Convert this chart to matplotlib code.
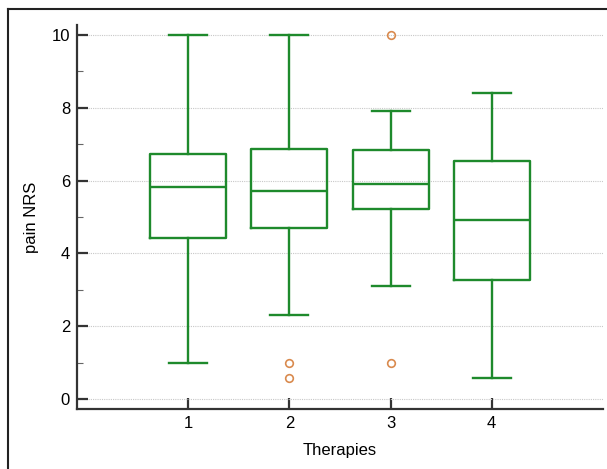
import matplotlib
matplotlib.use("Agg")
import matplotlib.pyplot as plt
from matplotlib.lines import Line2D

plt.rcParams['font.family'] = ['Liberation Sans', 'DejaVu Sans']

categories = ["1", "2", "3", "4"]
whislo = [1.0, 2.3, 3.11, 0.57]
q1 = [4.42, 4.71, 5.21, 3.27]
med = [5.81, 5.72, 5.90, 4.93]
q3 = [6.72, 6.87, 6.85, 6.55]
whishi = [10.0, 10.0, 7.91, 8.39]
fliers = [[], [1.0, 0.58], [10.0, 1.0], []]

green = "#1e8a2c"
orange = "#d98a4e"

stats = []
for i in range(len(categories)):
    stats.append(dict(label=categories[i], whislo=whislo[i], q1=q1[i], med=med[i],
                      q3=q3[i], whishi=whishi[i], fliers=fliers[i]))

fig = plt.figure(figsize=(6.07, 4.69), dpi=100)
ax = fig.add_axes([77/607, 1-409/469, (603-77)/607, (409-25)/469])

lw = 1.7
ax.bxp(stats, positions=[1, 2, 3, 4], widths=0.75, showfliers=True,
       boxprops=dict(color=green, linewidth=lw),
       whiskerprops=dict(color=green, linewidth=lw),
       capprops=dict(color=green, linewidth=lw),
       medianprops=dict(color=green, linewidth=lw),
       flierprops=dict(marker='o', markerfacecolor='none', markeredgecolor=orange,
                       markersize=5.5, markeredgewidth=1.2),
       capwidths=0.375)

ax.set_xlim(-0.1, 5.1)
ax.set_ylim(-0.27, 10.27)
ax.set_yticks([0, 2, 4, 6, 8, 10])
ax.set_yticks([1, 3, 5, 7, 9], minor=True)
ax.set_xticks([1, 2, 3, 4])
ax.set_xticklabels(categories)
ax.grid(axis='y', which='major', linestyle=(0, (1, 1)), color='#c8c8c8', linewidth=0.8)
ax.set_axisbelow(True)

for s in ['top', 'right']:
    ax.spines[s].set_visible(False)
for s in ['left', 'bottom']:
    ax.spines[s].set_color('#333333')
    ax.spines[s].set_linewidth(1.6)

ax.tick_params(axis='both', which='major', direction='in', length=8, width=1.6,
               color='#333333', labelsize=12, pad=5)
ax.tick_params(axis='y', which='minor', direction='in', length=4, width=0.8, color='#666666')
ax.tick_params(axis='x', which='minor', bottom=False)

ax.set_xlabel("Therapies", fontsize=12, labelpad=9)
ax.set_ylabel("pain NRS", fontsize=12, labelpad=9)

# figure frame (top and left edges)
fig.add_artist(Line2D([8/607, 1.0], [1-9/469, 1-9/469], transform=fig.transFigure,
                      color='#222222', linewidth=1.5))
fig.add_artist(Line2D([8/607, 8/607], [0, 1-9/469], transform=fig.transFigure,
                      color='#222222', linewidth=1.5))

fig.savefig("out.png", dpi=100)
